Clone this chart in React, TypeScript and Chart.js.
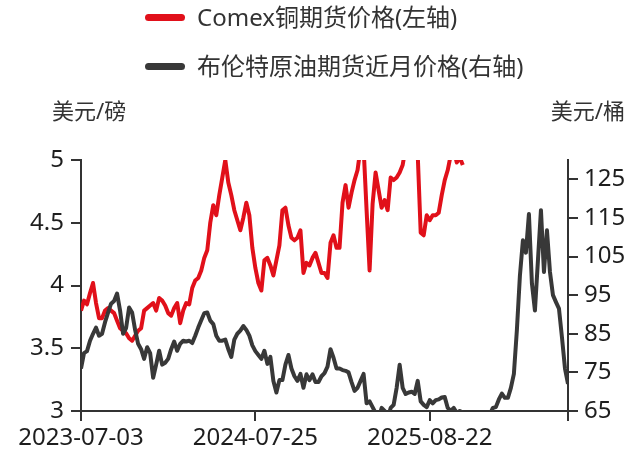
import React, { useEffect, useRef } from 'react';
import { Chart, registerables } from 'chart.js';

Chart.register(...registerables);

// ---- data ----
const seriesNames = ['Comex铜期货价格(左轴)', '布伦特原油期货近月价格(右轴)'];
const leftTitle = '美元/磅';
const rightTitle = '美元/桶';

// x positions are observation indices; tick labels at these indices
const xTickIndex = [0, 58, 116, 162];
const xTickLabels = ['2023-07-03', '2024-07-25', '2025-08-22', ''];

const leftTicks = [3, 3.5, 4, 4.5, 5];
const rightTicks = [65, 75, 85, 95, 105, 115, 125];

const copperPrice = [
  3.80, 3.88, 3.85, 3.94, 4.02, 3.86, 3.74, 3.74, 3.80, 3.82,
  3.80, 3.78, 3.72, 3.66, 3.64, 3.62, 3.58, 3.56, 3.60, 3.64,
  3.66, 3.80, 3.82, 3.84, 3.86, 3.80, 3.90, 3.88, 3.84, 3.78,
  3.76, 3.82, 3.86, 3.70, 3.80, 3.86, 3.85, 3.98, 4.04, 4.06,
  4.12, 4.22, 4.28, 4.50, 4.64, 4.56, 4.72, 4.86, 5.00, 4.82,
  4.72, 4.60, 4.52, 4.44, 4.54, 4.66, 4.56, 4.30, 4.14, 4.02,
  3.96, 4.20, 4.22, 4.16, 4.08, 4.20, 4.32, 4.60, 4.62, 4.48,
  4.38, 4.36, 4.38, 4.44, 4.10, 4.18, 4.16, 4.22, 4.26, 4.18,
  4.10, 4.10, 4.06, 4.34, 4.40, 4.30, 4.30, 4.66, 4.80, 4.62,
  4.74, 4.84, 4.92, 5.10, 5.10, 4.60, 4.12, 4.65, 4.90, 4.76,
  4.62, 4.68, 4.60, 4.86, 4.84, 4.86, 4.90, 4.96, 5.10, 5.20,
  5.25, 5.15, 5.05, 4.42, 4.40, 4.56, 4.52, 4.56, 4.56, 4.58,
  4.72, 4.84, 4.92, 5.04, 5.08, 4.98, 5.02, 4.96,
];

const brentPrice = [
  76, 80, 80.5, 83.2, 85, 86.6, 84.5, 85, 88, 90.5,
  92.8, 93.5, 95.4, 91, 85, 86.5, 91.8, 90.5, 86, 82.4,
  81, 78.5, 81.5, 80, 73.6, 77, 80.6, 77, 77.5, 78.5,
  81, 83, 80.6, 82.4, 83.2, 83, 83.2, 82.6, 84.5, 86.6,
  88.5, 90.3, 90.5, 88.4, 87.5, 84.5, 83.2, 83.2, 83.5, 81,
  79, 83.5, 85, 85.8, 87, 86, 84.5, 82, 80.5, 79.5,
  78.5, 80.6, 77.2, 79, 72.8, 69.8, 73, 73, 77, 79.5,
  76, 74, 72.8, 74.6, 71, 74.5, 73, 74.5, 72.5, 72.5,
  74, 74.8, 76.5, 81, 78.8, 76, 76, 75.6, 75.4, 75,
  72.5, 70.2, 71, 72.8, 74.6, 67, 67.5, 66, 64.5, 63,
  65.8, 65, 63, 65.8, 66.6, 71, 77, 71, 69.4, 69.8,
  70, 69.4, 72.8, 67.5, 66.6, 66, 67.8, 67, 67.8, 68,
  68.5, 68.6, 65.8, 65, 65.8, 64.5, 65, 64.6, 63.5, 62.5,
  62, 61.5, 61.5, 62, 62.5, 63, 64, 65.8, 66, 68,
  69.5, 68.4, 68.4, 71, 74.6, 86, 100, 109.2, 106, 116,
  98, 91, 104, 117, 101, 111.8, 101, 95, 93.2, 91.5,
  84, 76, 72,
];

const RED = '#e1101a';
const GRAY = '#383838';
const AXIS = '#333333';
const TEXT = '#333333';
const TICK_TEXT = '#1e1e1e';
const FONT = '"Noto Sans", "Noto Sans CJK SC", sans-serif';

export default function App() {
  const ref = useRef<HTMLCanvasElement>(null);

  useEffect(() => {
    const canvas = ref.current;
    if (!canvas) return;
    const chart = new Chart(canvas, {
      type: 'line',
      data: {
        datasets: [
          {
            label: seriesNames[1],
            data: brentPrice.map((v, i) => ({ x: i, y: v })),
            yAxisID: 'y2',
            borderColor: GRAY,
            backgroundColor: GRAY,
            borderWidth: 4,
            pointRadius: 0,
            tension: 0,
            borderJoinStyle: 'round',
          },
          {
            label: seriesNames[0],
            data: copperPrice.map((v, i) => ({ x: i, y: v })),
            yAxisID: 'y',
            borderColor: RED,
            backgroundColor: RED,
            borderWidth: 4,
            pointRadius: 0,
            tension: 0,
            borderJoinStyle: 'round',
          },
        ],
      },
      options: {
        responsive: false,
        animation: false,
        layout: { padding: { top: 160, left: 0, right: 0, bottom: 0 } },
        plugins: {
          legend: { display: false },
          tooltip: { enabled: false },
        },
        scales: {
          x: {
            type: 'linear',
            min: 0,
            max: brentPrice.length - 1,
            afterBuildTicks: (s: any) => {
              s.ticks = xTickIndex.map((v) => ({ value: v }));
            },
            afterFit: (s: any) => {
              s.height = 39;
            },
            ticks: {
              autoSkip: false,
              maxRotation: 0,
              padding: 3,
              color: TICK_TEXT,
              font: { family: FONT, size: 24 },
              callback: (v: any) => {
                const k = xTickIndex.indexOf(Number(v));
                return k >= 0 ? xTickLabels[k] : '';
              },
            },
            grid: {
              display: true,
              drawOnChartArea: false,
              drawTicks: true,
              tickLength: 10,
              color: AXIS,
              lineWidth: 2,
            },
            border: { display: true, color: AXIS, width: 2 },
          },
          y: {
            type: 'linear',
            position: 'left',
            min: 3,
            max: 5,
            afterBuildTicks: (s: any) => {
              s.ticks = leftTicks.map((v) => ({ value: v }));
            },
            afterFit: (s: any) => {
              s.width = 81;
            },
            ticks: {
              padding: 7,
              color: TICK_TEXT,
              font: { family: FONT, size: 24 },
              callback: (v: any) => String(v),
            },
            grid: {
              display: true,
              drawOnChartArea: false,
              drawTicks: true,
              tickLength: 10,
              color: AXIS,
              lineWidth: 2,
            },
            border: { display: true, color: AXIS, width: 2 },
          },
          y2: {
            type: 'linear',
            position: 'right',
            min: 65,
            max: 130,
            afterBuildTicks: (s: any) => {
              s.ticks = rightTicks.map((v) => ({ value: v }));
            },
            afterFit: (s: any) => {
              s.width = 69;
            },
            ticks: {
              padding: 6,
              color: TICK_TEXT,
              font: { family: FONT, size: 24 },
              callback: (v: any) => String(v),
            },
            grid: {
              display: true,
              drawOnChartArea: false,
              drawTicks: true,
              tickLength: 10,
              color: AXIS,
              lineWidth: 2,
            },
            border: { display: true, color: AXIS, width: 2 },
          },
        },
      },
    } as any);
    return () => chart.destroy();
  }, []);

  const legendRow = (color: string, text: string, top: number) => (
    <div
      style={{
        position: 'absolute',
        left: 145,
        top: top - 17,
        height: 34,
        display: 'flex',
        alignItems: 'center',
        whiteSpace: 'nowrap',
      }}
    >
      <div style={{ width: 40, height: 7, borderRadius: 3.5, background: color, marginRight: 12 }} />
      <span style={{ fontSize: 24, color: TEXT, lineHeight: '34px' }}>{text}</span>
    </div>
  );

  return (
    <div
      style={{
        position: 'fixed',
        left: 0,
        top: 0,
        width: 637,
        height: 450,
        background: '#fff',
        fontFamily: FONT,
        overflow: 'hidden',
      }}
    >
      <canvas
        ref={ref}
        width={637}
        height={450}
        style={{ position: 'absolute', left: 0, top: 0, width: 637, height: 450 }}
      />
      {legendRow(RED, seriesNames[0], 17)}
      {legendRow(GRAY, seriesNames[1], 66)}
      <div
        style={{
          position: 'absolute',
          left: 52,
          top: 95,
          lineHeight: '30px',
          fontSize: 22,
          color: TEXT,
          whiteSpace: 'nowrap',
        }}
      >
        {leftTitle}
      </div>
      <div
        style={{
          position: 'absolute',
          right: 12,
          top: 95,
          lineHeight: '30px',
          fontSize: 22,
          color: TEXT,
          whiteSpace: 'nowrap',
        }}
      >
        {rightTitle}
      </div>
    </div>
  );
}
